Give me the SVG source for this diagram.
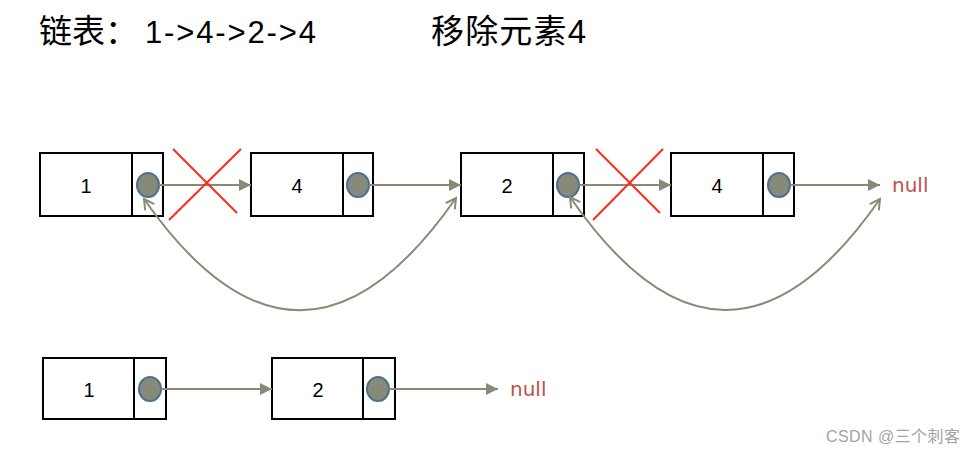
<svg xmlns="http://www.w3.org/2000/svg" width="977" height="455" viewBox="0 0 977 455">
<defs>
<style>
.box{fill:#fff;stroke:#000;stroke-width:2}
.div{stroke:#000;stroke-width:2}
.dot{fill:#878a78;stroke:#4f6f91;stroke-width:2}
.lbl{font-family:"Liberation Sans",Arial,sans-serif;font-size:20px;fill:#000;text-anchor:middle}
.null{font-family:"DejaVu Sans","Liberation Sans",sans-serif;font-size:20px;fill:#c0504d}
.link{stroke:#878a78;stroke-width:2.2;fill:none}
.curve{stroke:#878a78;stroke-width:2;fill:none}
.x{stroke:#ff2a1a;stroke-width:2}
.title{font-family:"Liberation Sans","Noto Sans CJK SC",sans-serif;font-size:33px;fill:#000}
.wm{font-family:"Liberation Sans","Noto Sans CJK SC",sans-serif;font-size:16px;fill:#a3a3a3}
</style>
<marker id="tri" viewBox="0 0 12 12" refX="12" refY="6" markerWidth="12" markerHeight="12" markerUnits="userSpaceOnUse" orient="auto">
<path d="M0,0 L12,6 L0,12 z" fill="#878a78"/>
</marker>
<marker id="open" viewBox="0 0 14 14" refX="12" refY="7" markerWidth="14" markerHeight="14" markerUnits="userSpaceOnUse" orient="auto-start-reverse">
<path d="M2,1.5 L12,7 L2,12.5" fill="none" stroke="#878a78" stroke-width="2"/>
</marker>
</defs>
<rect width="977" height="455" fill="#fff"/>

<text class="title" x="39" y="43">链表：<tspan x="145" textLength="171" lengthAdjust="spacing" font-size="31">1-&gt;4-&gt;2-&gt;4</tspan></text>
<text class="title" x="431" y="43" textLength="155" lengthAdjust="spacing">移除元素4</text>

<g id="top-1">
<rect class="box" x="40" y="153" width="123" height="63"/>
<line class="div" x1="132" y1="153" x2="132" y2="216"/>
<ellipse class="dot" cx="148" cy="185" rx="11" ry="12"/>
<text class="lbl" x="86" y="193">1</text>
</g>
<g id="top-4a">
<rect class="box" x="251" y="153" width="122" height="63"/>
<line class="div" x1="343" y1="153" x2="343" y2="216"/>
<ellipse class="dot" cx="358" cy="185" rx="11" ry="12"/>
<text class="lbl" x="297" y="193">4</text>
</g>
<g id="top-2">
<rect class="box" x="461" y="153" width="123" height="63"/>
<line class="div" x1="553" y1="153" x2="553" y2="216"/>
<ellipse class="dot" cx="568" cy="185" rx="11" ry="12"/>
<text class="lbl" x="507" y="193">2</text>
</g>
<g id="top-4b">
<rect class="box" x="671" y="153" width="123" height="63"/>
<line class="div" x1="763" y1="153" x2="763" y2="216"/>
<ellipse class="dot" cx="779" cy="185" rx="11" ry="12"/>
<text class="lbl" x="717" y="193">4</text>
</g>
<g id="top-null"><text class="null" x="892" y="192">null</text></g>

<g id="bottom-1">
<rect class="box" x="43" y="358" width="123" height="61"/>
<line class="div" x1="134" y1="358" x2="134" y2="419"/>
<ellipse class="dot" cx="150" cy="389" rx="11" ry="12"/>
<text class="lbl" x="89" y="397">1</text>
</g>
<g id="bottom-2">
<rect class="box" x="272" y="358" width="123" height="61"/>
<line class="div" x1="363" y1="358" x2="363" y2="419"/>
<ellipse class="dot" cx="378" cy="389" rx="11" ry="12"/>
<text class="lbl" x="318" y="397">2</text>
</g>
<g id="bottom-null"><text class="null" x="510" y="396">null</text></g>

<g id="connectors">
<line class="link" x1="159" y1="185" x2="251" y2="185" marker-end="url(#tri)"/>
<line class="link" x1="369" y1="185" x2="461" y2="185" marker-end="url(#tri)"/>
<line class="link" x1="579" y1="185" x2="671" y2="185" marker-end="url(#tri)"/>
<line class="link" x1="790" y1="185" x2="880" y2="185" marker-end="url(#tri)"/>
<path class="curve" d="M144,199 Q300,422 456,198" marker-start="url(#open)" marker-end="url(#open)"/>
<path class="curve" d="M570,197 Q725,422 880,199" marker-start="url(#open)" marker-end="url(#open)"/>
<line class="link" x1="161" y1="389" x2="272" y2="389" marker-end="url(#tri)"/>
<line class="link" x1="389" y1="389" x2="498" y2="389" marker-end="url(#tri)"/>
</g>

<g id="marks">
<line class="x" x1="173" y1="149" x2="237" y2="213"/>
<line class="x" x1="241" y1="149" x2="169" y2="220"/>
<line class="x" x1="596" y1="149" x2="660" y2="213"/>
<line class="x" x1="663" y1="149" x2="593" y2="220"/>
</g>

<text class="wm" x="826" y="442" textLength="134" lengthAdjust="spacing">CSDN @三个刺客</text>
</svg>
